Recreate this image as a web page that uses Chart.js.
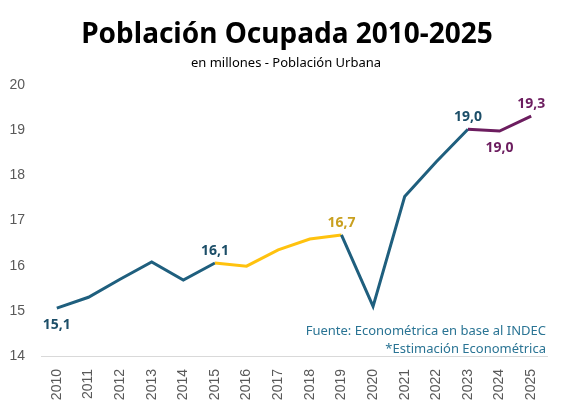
<!DOCTYPE html>
<html>
<head>
<meta charset="utf-8">
<script src="https://cdn.jsdelivr.net/npm/chart.js@4"></script>
<style>
  html, body { margin: 0; padding: 0; background: #fff; }
  #wrap { width: 582px; height: 410px; position: relative; }
</style>
</head>
<body>
<div id="wrap"><canvas id="myChart"></canvas></div>
<script>
const years = ['2010', '2011', '2012', '2013', '2014', '2015', '2016', '2017',
               '2018', '2019', '2020', '2021', '2022', '2023', '2024', '2025'];
const ocupados = [15.06, 15.30, 15.70, 16.08, 15.68, 16.06, 15.99, 16.35,
                  16.59, 16.68, 15.10, 17.53, 18.30, 19.02, 18.98, 19.31];
const yTicks = [14, 15, 16, 17, 18, 19, 20];
// which points get a value label, and where
const labelAt = { 0: 'below', 5: 'above', 9: 'above', 13: 'above', 14: 'below', 15: 'above' };

const BLUE = '#1F5F7E';
const BLUE_TXT = '#1C4E68';
const YELLOW = '#FFC20E';
const YELLOW_TXT = '#C9A020';
const PURPLE = '#6C1D5F';

function segColor(i) {
    if (i >= 5 && i < 9) return YELLOW;
    if (i >= 13) return PURPLE;
    return BLUE;
}
function labelColor(i) {
    if (i === 9) return YELLOW_TXT;
    if (i >= 14) return PURPLE;
    return BLUE_TXT;
}

const extras = {
    id: 'extras',
    afterDraw(chart) {
        const ctx = chart.ctx;
        ctx.save();
        ctx.textAlign = 'center';
        ctx.textBaseline = 'alphabetic';
        ctx.fillStyle = '#000';
        ctx.font = 'bold 28px "Noto Sans", sans-serif';
        ctx.fillText('Población Ocupada 2010-2025', 287, 43);
        ctx.font = '13px "Noto Sans", sans-serif';
        ctx.fillText('en millones - Población Urbana', 286, 67);

        ctx.textAlign = 'right';
        ctx.fillStyle = '#2A7494';
        ctx.font = '13px "Noto Sans", sans-serif';
        ctx.fillText('Fuente: Econométrica en base al INDEC', 546, 335);
        ctx.fillText('*Estimación Econométrica', 546, 353);

        // value labels
        const meta = chart.getDatasetMeta(0);
        ctx.textAlign = 'center';
        ctx.font = 'bold 14px "Noto Sans", sans-serif';
        Object.keys(labelAt).forEach(k => {
            const i = Number(k);
            const pt = meta.data[i];
            const txt = ocupados[i].toFixed(1).replace('.', ',');
            ctx.fillStyle = labelColor(i);
            const y = labelAt[k] === 'above' ? pt.y - 8 : pt.y + 21;
            ctx.fillText(txt, pt.x, y);
        });
        ctx.restore();
    }
};

const ctx = document.getElementById('myChart').getContext('2d');
const myChart = new Chart(ctx, {
    type: 'line',
    data: {
        labels: years,
        datasets: [{
            data: ocupados,
            borderWidth: 3,
            pointRadius: 0,
            tension: 0,
            borderColor: BLUE,
            segment: {
                borderColor: c => segColor(c.p0DataIndex)
            }
        }]
    },
    options: {
        responsive: true,
        maintainAspectRatio: false,
        animation: false,
        layout: { padding: { top: 85, right: 35, left: 0, bottom: 0 } },
        plugins: {
            legend: { display: false },
            tooltip: { enabled: false },
            title: { display: false }
        },
        scales: {
            x: {
                offset: true,
                grid: { display: false },
                border: { display: true, color: '#D9D9D9', width: 1 },
                ticks: {
                    color: '#595959',
                    font: { family: '"Liberation Sans", Arial, sans-serif', size: 14 },
                    maxRotation: 90,
                    minRotation: 90,
                    padding: 5
                },
                afterFit: s => { s.height = 54; }
            },
            y: {
                min: 14,
                max: 20,
                grid: { display: false },
                border: { display: false },
                afterBuildTicks: s => { s.ticks = yTicks.map(v => ({ value: v })); },
                ticks: {
                    color: '#595959',
                    font: { family: '"Liberation Sans", Arial, sans-serif', size: 14 },
                    padding: 8
                },
                afterFit: s => { s.width = 41; }
            }
        }
    },
    plugins: [extras]
});
</script>
</body>
</html>
